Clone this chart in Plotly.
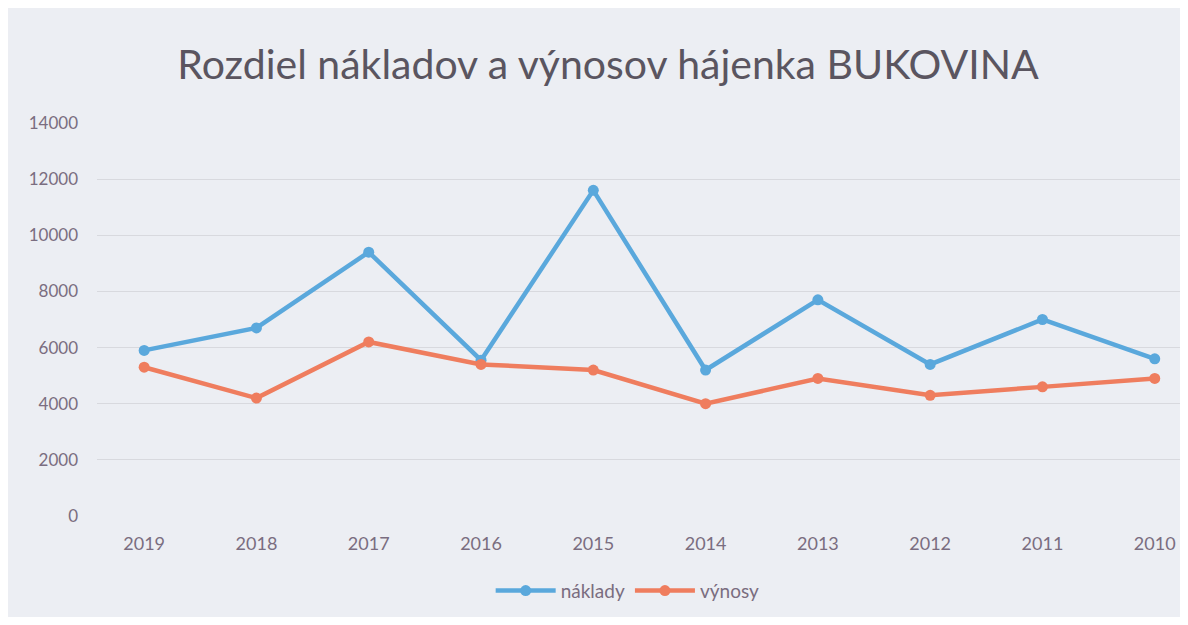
import plotly.graph_objects as go

roky = ["2019", "2018", "2017", "2016", "2015", "2014", "2013", "2012", "2011", "2010"]
naklady = [5900, 6700, 9400, 5550, 11600, 5200, 7700, 5400, 7000, 5600]
vynosy = [5300, 4200, 6200, 5400, 5200, 4000, 4900, 4300, 4600, 4900]
y_ticks = [0, 2000, 4000, 6000, 8000, 10000, 12000, 14000]

fig = go.Figure()
fig.add_trace(go.Scatter(x=list(range(len(roky))), y=naklady, name="náklady", mode="lines+markers",
                         line=dict(color="#5aa8dc", width=4.5), marker=dict(size=11, color="#5aa8dc")))
fig.add_trace(go.Scatter(x=list(range(len(roky))), y=vynosy, name="výnosy", mode="lines+markers",
                         line=dict(color="#ef7d5e", width=4.5), marker=dict(size=11, color="#ef7d5e")))

fig.update_layout(
    width=1172, height=609,
    paper_bgcolor="#eceef3", plot_bgcolor="#eceef3",
    margin=dict(l=89, r=0, t=115, b=101),
    title=dict(text="Rozdiel nákladov a výnosov hájenka BUKOVINA", x=0.512, xanchor="center",
               y=1 - 57 / 609, yanchor="middle", yref="container",
               font=dict(family="Lato", size=41, color="#5a5560")),
    font=dict(family="Lato", color="#7a6d80", size=17),
    xaxis=dict(tickmode="array", tickvals=list(range(len(roky))), ticktext=roky,
               range=[-0.42, 9.225], showgrid=False, zeroline=False, showline=False,
               ticks="", ticklabelstandoff=15, tickfont=dict(size=18)),
    yaxis=dict(range=[0, 14000], tickvals=y_ticks, ticktext=[str(v) for v in y_ticks],
               showgrid=True, gridcolor="#d8d9de", gridwidth=1.2, zeroline=False,
               ticks="", ticklabelstandoff=18, tickfont=dict(size=17)),
    legend=dict(orientation="h", x=0.49, xanchor="center", y=-0.19, yanchor="middle",
                font=dict(size=19, color="#7a6d80"), bgcolor="rgba(0,0,0,0)",
                itemwidth=60),
    showlegend=True,
)

fig.write_html("out.html")
